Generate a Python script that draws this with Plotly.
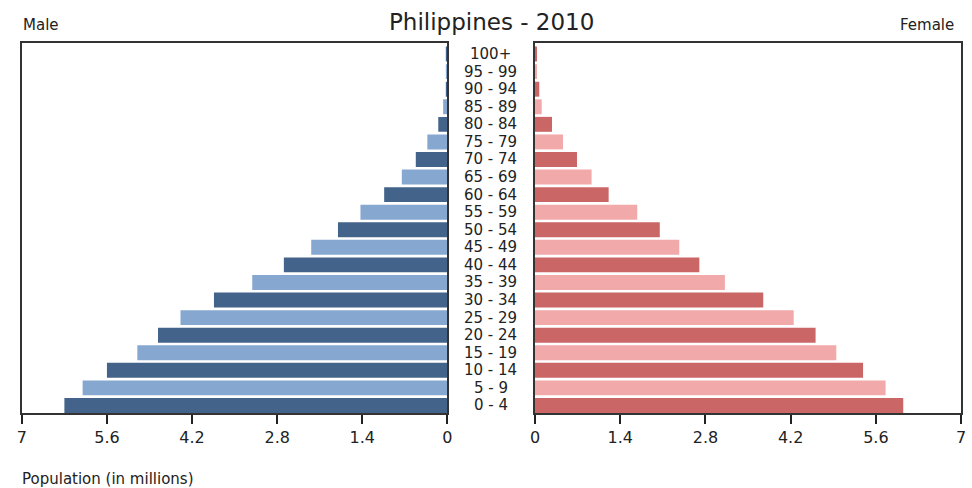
import plotly.graph_objects as go

ages = ["0 - 4", "5 - 9", "10 - 14", "15 - 19", "20 - 24", "25 - 29", "30 - 34",
        "35 - 39", "40 - 44", "45 - 49", "50 - 54", "55 - 59", "60 - 64", "65 - 69",
        "70 - 74", "75 - 79", "80 - 84", "85 - 89", "90 - 94", "95 - 99", "100+"]

male = [6.30, 6.00, 5.60, 5.10, 4.76, 4.39, 3.84, 3.21, 2.69, 2.24, 1.80,
        1.43, 1.04, 0.75, 0.52, 0.33, 0.15, 0.07, 0.02, 0.01, 0.01]
female = [6.05, 5.76, 5.39, 4.95, 4.61, 4.25, 3.75, 3.12, 2.70, 2.37, 2.05,
          1.68, 1.21, 0.93, 0.69, 0.46, 0.28, 0.11, 0.07, 0.02, 0.03]

tick_vals = [0, 1.4, 2.8, 4.2, 5.6, 7]
tick_text = ["0", "1.4", "2.8", "4.2", "5.6", "7"]

male_colors = ["#44638a" if i % 2 == 0 else "#86a7cf" for i in range(len(ages))]
female_colors = ["#cb6666" if i % 2 == 0 else "#f2a9a9" for i in range(len(ages))]

W, H = 972, 488
TOP, BOT = 43, 413          # plot area in pixels
FONT = "DejaVu Sans"

def px_y(py):
    # pixel row -> paper y (paper = plot area)
    return (BOT - py) / (BOT - TOP)

fig = go.Figure()
fig.add_trace(go.Bar(y=ages, x=male, orientation="h", marker_color=male_colors,
                     marker_line_width=0, xaxis="x", yaxis="y", showlegend=False))
fig.add_trace(go.Bar(y=ages, x=female, orientation="h", marker_color=female_colors,
                     marker_line_width=0, xaxis="x2", yaxis="y2", showlegend=False))

axis_common = dict(tickvals=tick_vals, ticktext=tick_text, ticks="outside",
                   ticklen=9, tickwidth=1.5, tickcolor="#222", showline=True,
                   linecolor="#333", linewidth=1.5, mirror=True, showgrid=False,
                   zeroline=False, tickfont=dict(family=FONT, size=16, color="#222"))

y_common = dict(type="category", categoryorder="array", categoryarray=ages,
                range=[-0.43, 20.63], showticklabels=False, showline=True,
                linecolor="#333", linewidth=1.5, mirror=True, showgrid=False,
                zeroline=False, ticks="")

fig.update_layout(
    width=W, height=H,
    margin=dict(l=0, r=0, t=TOP, b=H - BOT),
    paper_bgcolor="white", plot_bgcolor="white",
    bargap=0.15,
    xaxis=dict(axis_common, range=[7, 0], domain=[17 / W, 447 / W], anchor="y"),
    xaxis2=dict(axis_common, range=[0, 7], domain=[535.5 / W, 966 / W], anchor="y2"),
    yaxis=dict(y_common, anchor="x"),
    yaxis2=dict(y_common, anchor="x2"),
    font=dict(family=FONT, color="#222"),
)

for a in ages:
    fig.add_annotation(x=491 / W, xref="paper", y=a, yref="y", text=a, showarrow=False,
                       font=dict(family=FONT, size=15, color="#222"), xanchor="center")

fig.add_annotation(x=492 / W, y=px_y(22), xref="paper", yref="paper", yanchor="middle",
                   text="Philippines - 2010", showarrow=False,
                   font=dict(family=FONT, size=23, color="#222"))
fig.add_annotation(x=16 / W, y=px_y(25), xref="paper", yref="paper", xanchor="left",
                   yanchor="middle", text="Male", showarrow=False,
                   font=dict(family=FONT, size=15, color="#222"))
fig.add_annotation(x=961 / W, y=px_y(25), xref="paper", yref="paper", xanchor="right",
                   yanchor="middle", text="Female", showarrow=False,
                   font=dict(family=FONT, size=15, color="#222"))
fig.add_annotation(x=15 / W, y=px_y(479), xref="paper", yref="paper", xanchor="left",
                   yanchor="middle", text="Population (in millions)", showarrow=False,
                   font=dict(family=FONT, size=15, color="#222"))

fig.write_html("out.html", config={"displayModeBar": False},
               post_script="document.body.style.margin='0';")
